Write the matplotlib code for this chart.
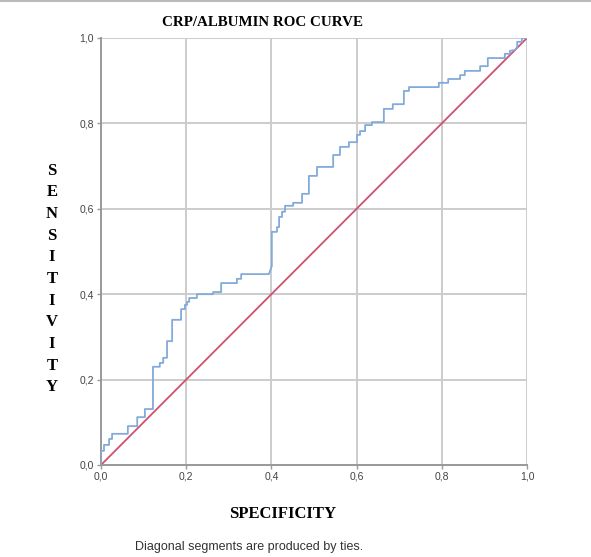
import matplotlib

matplotlib.use("Agg")
import matplotlib.pyplot as plt
from matplotlib.lines import Line2D

# ROC coordinates (x = 1 - specificity, y = sensitivity)
fpr = [0.0, 0.0, 0.007, 0.007, 0.019, 0.019, 0.026, 0.026, 0.063, 0.063,
       0.085, 0.085, 0.103, 0.103, 0.122, 0.122, 0.138, 0.138, 0.146, 0.146,
       0.155, 0.155, 0.167, 0.167, 0.188, 0.188, 0.197, 0.197, 0.202, 0.202,
       0.207, 0.207, 0.225, 0.225, 0.263, 0.263, 0.282, 0.282, 0.319, 0.319,
       0.329, 0.329, 0.394, 0.401, 0.401, 0.413, 0.413, 0.418, 0.418, 0.425,
       0.425, 0.432, 0.432, 0.451, 0.451, 0.472, 0.472, 0.488, 0.488, 0.507,
       0.507, 0.545, 0.545, 0.561, 0.561, 0.582, 0.582, 0.601, 0.601, 0.608,
       0.608, 0.620, 0.620, 0.636, 0.636, 0.664, 0.664, 0.685, 0.685, 0.711,
       0.711, 0.723, 0.723, 0.793, 0.793, 0.815, 0.815, 0.843, 0.843, 0.854,
       0.854, 0.890, 0.890, 0.908, 0.908, 0.948, 0.948, 0.960, 0.960, 0.972,
       0.977, 0.977, 0.988, 0.988, 1.0]
tpr = [0.0, 0.033, 0.033, 0.047, 0.047, 0.061, 0.061, 0.073, 0.073, 0.091,
       0.091, 0.112, 0.112, 0.131, 0.131, 0.230, 0.230, 0.239, 0.239, 0.251,
       0.251, 0.290, 0.290, 0.340, 0.340, 0.365, 0.365, 0.375, 0.375, 0.382,
       0.382, 0.391, 0.391, 0.400, 0.400, 0.405, 0.405, 0.426, 0.426, 0.436,
       0.436, 0.447, 0.447, 0.466, 0.546, 0.546, 0.557, 0.557, 0.581, 0.581,
       0.593, 0.593, 0.607, 0.607, 0.614, 0.614, 0.635, 0.635, 0.677, 0.677,
       0.698, 0.698, 0.726, 0.726, 0.745, 0.745, 0.756, 0.756, 0.773, 0.773,
       0.782, 0.782, 0.796, 0.796, 0.803, 0.803, 0.834, 0.834, 0.845, 0.845,
       0.876, 0.876, 0.885, 0.885, 0.895, 0.895, 0.904, 0.904, 0.913, 0.913,
       0.923, 0.923, 0.934, 0.934, 0.953, 0.953, 0.963, 0.963, 0.970, 0.972,
       0.979, 0.991, 0.991, 1.0, 1.0]
ref_line = [0.0, 1.0]
ticks = [0.0, 0.2, 0.4, 0.6, 0.8, 1.0]
tick_labels = ["0,0", "0,2", "0,4", "0,6", "0,8", "1,0"]

SERIF = "Liberation Serif"
SANS = "Liberation Sans"

fig = plt.figure(figsize=(5.91, 5.57), dpi=100)
ax = fig.add_axes([0.1709, 0.1652, 0.7208, 0.7666])

ax.plot(fpr, tpr, color="#82aadb", linewidth=1.3, zorder=3)
ax.plot(ref_line, ref_line, color="#d2506e", linewidth=1.3, zorder=2)

ax.set_xlim(0, 1)
ax.set_ylim(0, 1)
ax.set_xticks(ticks)
ax.set_yticks(ticks)
ax.set_xticklabels(tick_labels, fontfamily=SANS, fontsize=7.5, color="#444444")
ax.set_yticklabels(tick_labels, fontfamily=SANS, fontsize=7.5, color="#444444")
ax.tick_params(length=3, width=1, color="#999999", pad=2)
ax.grid(True, color="#cccccc", linewidth=1.4)
ax.set_axisbelow(True)
for side in ("top", "right"):
    ax.spines[side].set_visible(False)
for side in ("left", "bottom"):
    ax.spines[side].set_color("#999999")
    ax.spines[side].set_linewidth(1.4)

fig.text(0.445, 0.96, "CRP/ALBUMIN ROC CURVE", ha="center", va="center",
         fontfamily=SERIF, fontweight="bold", fontsize=10.8)
fig.text(0.479, 0.078, "SPECIFICITY", ha="center", va="center",
         fontfamily=SERIF, fontweight="bold", fontsize=12)
fig.text(0.088, 0.499, "\n".join("SENSITIVITY"), ha="center", va="center",
         fontfamily=SERIF, fontweight="bold", fontsize=12, linespacing=1.47)
fig.text(0.422, 0.018, "Diagonal segments are produced by ties.", ha="center",
         va="center", fontfamily=SANS, fontsize=9, color="#333333")

fig.add_artist(Line2D([0, 1], [0.998, 0.998], color="#bbbbbb", linewidth=1.5,
                      transform=fig.transFigure))

fig.savefig("out.png", dpi=100)
plt.close(fig)
